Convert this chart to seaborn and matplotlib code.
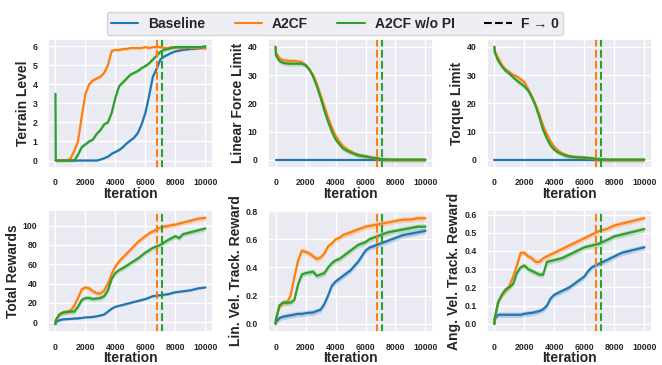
import matplotlib.pyplot as plt
from matplotlib.lines import Line2D
import seaborn as sns
import numpy as np
import pandas as pd

# shared iteration grid
ITER = [0, 20, 250, 500, 750] + list(range(1000, 10001, 250))

METHODS = ["Baseline", "A2CF", "A2CF w/o PI"]
COLORS = ["#1f77b4", "#ff7f0e", "#2ca02c"]
F_ZERO = {"A2CF": 6750, "A2CF w/o PI": 7100}

# ---- Terrain Level ----
terrain_baseline = [0, 0, 0, 0, 0,
                    0, 0, 0, 0,
                    0, 0, 0, 0,
                    0.05, 0.12, 0.2, 0.35,
                    0.45, 0.55, 0.7, 0.9,
                    1.05, 1.2, 1.45, 1.9,
                    2.5, 3.4, 4.4, 4.8,
                    5.3, 5.45, 5.55, 5.65,
                    5.72, 5.76, 5.8, 5.82,
                    5.85, 5.85, 5.88, 5.9,
                    5.9]
terrain_a2cf = [0, 0, 0, 0, 0,
                0.1, 0.5, 1.0, 2.3,
                3.5, 4.0, 4.2, 4.3,
                4.4, 4.6, 5.0, 5.75,
                5.8, 5.8, 5.85, 5.85,
                5.9, 5.9, 5.9, 5.9,
                5.95, 5.9, 5.95, 5.95,
                5.95, 5.9, 5.9, 5.95,
                5.9, 5.9, 5.9, 5.95,
                5.9, 5.9, 5.9, 5.95,
                5.85]
terrain_nopi = [3.5, 0, 0, 0, 0,
                0, 0, 0.3, 0.7,
                0.85, 1.0, 1.1, 1.4,
                1.6, 1.9, 2.0, 2.5,
                3.3, 3.9, 4.1, 4.3,
                4.5, 4.6, 4.7, 4.85,
                4.95, 5.1, 5.3, 5.5,
                5.7, 5.8, 5.85, 5.9,
                5.95, 5.95, 5.95, 5.95,
                5.95, 5.95, 5.95, 5.95,
                6.0]

# ---- Linear Force Limit ----
force_baseline = [0, 0, 0, 0, 0,
                  0, 0, 0, 0,
                  0, 0, 0, 0,
                  0, 0, 0, 0,
                  0, 0, 0, 0,
                  0, 0, 0, 0,
                  0, 0, 0, 0,
                  0, 0, 0, 0,
                  0, 0, 0, 0,
                  0, 0, 0, 0,
                  0]
force_a2cf = [40, 38, 36, 35.2, 35.1,
              35, 35, 34.8, 34.5,
              33.5, 32, 30, 27,
              23, 19, 15, 11.5,
              8.5, 6.5, 4.8, 3.8,
              3, 2.3, 1.8, 1.5,
              1.2, 0.9, 0.6, 0.4,
              0.2, 0.1, 0.05, 0,
              0, 0, 0, 0,
              0, 0, 0, 0,
              0]
force_nopi = [40, 37, 35, 34.3, 34.1,
              34, 34, 34, 34,
              33.5, 32, 29.5, 26,
              22, 17.5, 13.5, 10,
              7.2, 5.5, 4, 3.2,
              2.6, 2.1, 1.6, 1.4,
              1.2, 0.9, 0.7, 0.5,
              0.3, 0.1, 0.05, 0,
              0, 0, 0, 0,
              0, 0, 0, 0,
              0]

# ---- Torque Limit ----
torque_baseline = force_baseline
torque_a2cf = [40, 38.5, 36, 33.5, 32,
               31, 30, 29.5, 28.5,
               27.5, 25, 22.5, 19.5,
               16, 12, 9, 6.5,
               4.5, 3.2, 2.3, 1.7,
               1.2, 1.0, 0.8, 0.7,
               0.6, 0.5, 0.4, 0.3,
               0.15, 0.08, 0.03, 0,
               0, 0, 0, 0,
               0, 0, 0, 0,
               0]
torque_nopi = [40, 38, 35, 33, 31.5,
               30.5, 29.2, 28, 27,
               26, 24.5, 22, 19,
               15, 10.5, 7.5, 5,
               3.5, 2.6, 2, 1.5,
               1.2, 1.0, 0.9, 0.85,
               0.8, 0.65, 0.5, 0.35,
               0.2, 0.1, 0.05, 0,
               0, 0, 0, 0,
               0, 0, 0, 0,
               0]

# ---- Total Rewards ----
total_baseline = [-2, 0, 2, 3, 3.2,
                  3.5, 3.8, 4, 4.5,
                  5, 5.2, 5.5, 6.2,
                  7, 8, 11, 14,
                  16, 17, 18, 19,
                  20, 21, 22, 23,
                  24, 25.5, 27, 27.5,
                  28, 28.5, 29, 30,
                  31, 31.5, 32, 32.5,
                  33, 34, 35, 35.5,
                  36]
total_a2cf = [-2, 2, 8, 10, 11,
              12, 17, 25, 34,
              36, 35, 32, 30,
              29.5, 33, 40, 50,
              58, 63, 67, 71,
              75, 79, 83, 86,
              89, 92, 94, 96,
              98, 99, 99.5, 100.5,
              101, 102, 103, 104,
              105, 106, 107, 107.5,
              108]
total_nopi = [-2, 2, 8, 10, 10.5,
              11, 11, 16, 23,
              25, 25, 24, 24.5,
              25, 27, 33, 45,
              51, 54, 56, 58.5,
              61, 63.5, 66, 69,
              72, 74.5, 77, 78.5,
              80, 82.5, 85, 87,
              89, 87, 91, 92,
              93, 94, 95, 96,
              97]

# ---- Lin. Vel. Track. Reward ----
lin_baseline = [0.0, 0.01, 0.04, 0.05, 0.055,
                0.06, 0.065, 0.07, 0.07,
                0.075, 0.078, 0.08, 0.09,
                0.1, 0.14, 0.2, 0.27,
                0.3, 0.32, 0.34, 0.36,
                0.38, 0.41, 0.44, 0.48,
                0.52, 0.54, 0.55, 0.56,
                0.57, 0.58, 0.59, 0.6,
                0.61, 0.62, 0.63, 0.635,
                0.64, 0.645, 0.65, 0.655,
                0.66]
lin_a2cf = [0.0, 0.03, 0.12, 0.15, 0.15,
            0.2, 0.33, 0.45, 0.52,
            0.51, 0.5, 0.48, 0.46,
            0.47, 0.5, 0.55, 0.57,
            0.6, 0.61, 0.63, 0.64,
            0.65, 0.66, 0.67, 0.68,
            0.69, 0.695, 0.7, 0.705,
            0.71, 0.715, 0.72, 0.725,
            0.73, 0.735, 0.74, 0.74,
            0.74, 0.745, 0.75, 0.75,
            0.75]
lin_nopi = [0.0, 0.03, 0.13, 0.15, 0.15,
            0.15, 0.17, 0.28, 0.35,
            0.36, 0.365, 0.37, 0.34,
            0.35, 0.36, 0.4, 0.43,
            0.45, 0.46, 0.48, 0.5,
            0.52, 0.54, 0.56, 0.57,
            0.58, 0.6, 0.61, 0.62,
            0.63, 0.64, 0.65, 0.655,
            0.66, 0.665, 0.67, 0.675,
            0.68, 0.685, 0.69, 0.69,
            0.69]

# ---- Ang. Vel. Track. Reward ----
ang_baseline = [0.0, 0.03, 0.05, 0.05, 0.05,
                0.05, 0.05, 0.05, 0.05,
                0.055, 0.058, 0.06, 0.065,
                0.07, 0.08, 0.1, 0.14,
                0.16, 0.17, 0.18, 0.19,
                0.2, 0.215, 0.23, 0.245,
                0.26, 0.29, 0.31, 0.32,
                0.33, 0.34, 0.35, 0.36,
                0.37, 0.38, 0.39, 0.395,
                0.4, 0.405, 0.41, 0.415,
                0.42]
ang_a2cf = [0.0, 0.03, 0.12, 0.16, 0.18,
            0.21, 0.26, 0.32, 0.39,
            0.39, 0.37, 0.36, 0.34,
            0.34, 0.36, 0.37, 0.38,
            0.39, 0.40, 0.41, 0.42,
            0.43, 0.44, 0.45, 0.46,
            0.47, 0.48, 0.49, 0.50,
            0.51, 0.515, 0.52, 0.53,
            0.54, 0.545, 0.55, 0.555,
            0.56, 0.565, 0.57, 0.575,
            0.58]
ang_nopi = [0.0, 0.03, 0.12, 0.16, 0.19,
            0.2, 0.22, 0.28, 0.31,
            0.32, 0.3, 0.29, 0.28,
            0.27, 0.27, 0.34, 0.345,
            0.35, 0.355, 0.36, 0.37,
            0.38, 0.39, 0.40, 0.41,
            0.42, 0.425, 0.43, 0.435,
            0.44, 0.45, 0.46, 0.47,
            0.48, 0.485, 0.49, 0.495,
            0.50, 0.505, 0.51, 0.515,
            0.52]

# half-width of the shaded spread per method (Baseline, A2CF, w/o PI)
terrain_band = [0.05, 0.08, 0.08]
force_band = [0.0, 0.8, 0.8]
torque_band = [0.0, 0.8, 0.8]
total_band = [1.2, 2.5, 2.5]
lin_band = [0.02, 0.02, 0.02]
ang_band = [0.015, 0.015, 0.015]

panels = [
    ("Terrain Level", [terrain_baseline, terrain_a2cf, terrain_nopi], terrain_band, [0, 1, 2, 3, 4, 5, 6], "{:.0f}"),
    ("Linear Force Limit", [force_baseline, force_a2cf, force_nopi], force_band, [0, 10, 20, 30, 40], "{:.0f}"),
    ("Torque Limit", [torque_baseline, torque_a2cf, torque_nopi], torque_band, [0, 10, 20, 30, 40], "{:.0f}"),
    ("Total Rewards", [total_baseline, total_a2cf, total_nopi], total_band, [0, 20, 40, 60, 80, 100], "{:.0f}"),
    ("Lin. Vel. Track. Reward", [lin_baseline, lin_a2cf, lin_nopi], lin_band, [0.0, 0.2, 0.4, 0.6, 0.8], "{:.1f}"),
    ("Ang. Vel. Track. Reward", [ang_baseline, ang_a2cf, ang_nopi], ang_band, [0.0, 0.1, 0.2, 0.3, 0.4, 0.5, 0.6], "{:.1f}"),
]

sns.set_theme(style="darkgrid")
plt.rcParams['font.family'] = ['Liberation Sans', 'DejaVu Sans']

fig = plt.figure(figsize=(6.62, 3.65), dpi=100)
lefts = [0.0725, 0.405, 0.7356]
bottoms = [0.540, 0.090]
heights = [0.354, 0.335]
w = 0.249

for i, (label, series, band, yticks, fmt) in enumerate(panels):
    ax = fig.add_axes([lefts[i % 3], bottoms[i // 3], w, heights[i // 3]])
    df = pd.concat([pd.DataFrame({"Iteration": ITER, "value": s, "method": m})
                    for m, s in zip(METHODS, series)])
    for m, s, c, b in zip(METHODS, series, COLORS, band):
        if b > 0:
            s = np.array(s, dtype=float)
            ax.fill_between(ITER, s - b, s + b, color=c, alpha=0.25, lw=0)
    sns.lineplot(data=df, x="Iteration", y="value", hue="method",
                 palette=COLORS, hue_order=METHODS, lw=1.6, ax=ax, legend=False)
    for m, c in zip(METHODS[1:], COLORS[1:]):
        ax.axvline(F_ZERO[m], color=c, ls="--", lw=1.5)
    ax.set_xticks([0, 2000, 4000, 6000, 8000, 10000])
    ax.set_yticks(yticks)
    ax.set_yticklabels([fmt.format(t) for t in yticks])
    ax.tick_params(axis="both", labelsize=6.3, pad=1.5)
    for t in ax.get_xticklabels() + ax.get_yticklabels():
        t.set_fontweight("bold")
        t.set_color("#262626")
    ax.set_xlabel("Iteration", fontsize=10, fontweight="bold", labelpad=-0.5)
    ax.set_ylabel(label, fontsize=10, fontweight="bold", labelpad=2)

handles = [Line2D([], [], color=c, lw=1.5) for c in COLORS]
handles.append(Line2D([], [], color="black", ls="--", lw=1.5))
fig.legend(handles, METHODS + ["F \u2192 0"], loc="upper center",
           bbox_to_anchor=(0.506, 0.985), ncol=4, frameon=True,
           prop={"weight": "bold", "size": 10}, handlelength=2.0,
           handletextpad=0.7, columnspacing=2.1, borderpad=0.3)

fig.savefig("out.png", dpi=100)
